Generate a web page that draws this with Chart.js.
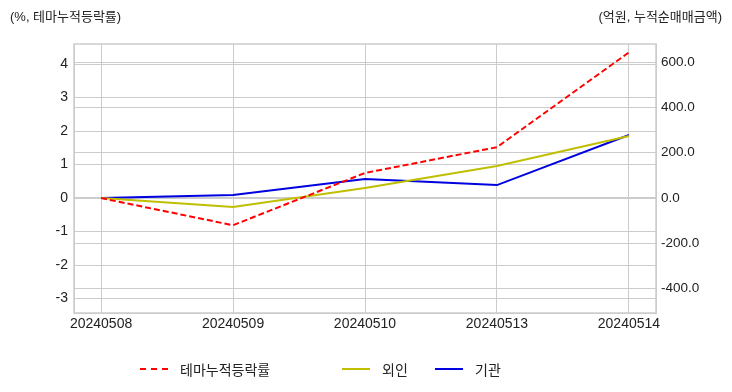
<!DOCTYPE html>
<html lang="ko">
<head>
  <meta charset="UTF-8">
  <title>테마누적등락률</title>
  <script src="https://cdn.jsdelivr.net/npm/chart.js@4"></script>
  <style>
    body { margin: 0; background: #fff; font-family: "Liberation Sans", "Noto Sans CJK KR", sans-serif; }
    #wrap { position: relative; width: 732px; height: 392px; }
    .axis-title { position: absolute; top: 6px; font-size: 13px; color: #222; white-space: nowrap; }
    .legend { position: absolute; top: 359px; font-size: 14px; color: #222; display: flex; align-items: center; white-space: nowrap; }
    .legend span.sw { display: inline-block; width: 28px; height: 0; margin-right: 12px; }
  </style>
</head>
<body>
  <div id="wrap">
    <canvas id="chart" width="732" height="392"></canvas>
    <div class="axis-title" style="left:10px">(%, 테마누적등락률)</div>
    <div class="axis-title" style="right:10px">(억원, 누적순매매금액)</div>
    <div class="legend" style="left:140px"><span class="sw" style="border-top:2px dashed #f00"></span>테마누적등락률</div>
    <div class="legend" style="left:342px"><span class="sw" style="border-top:2px solid #bfbf00"></span>외인</div>
    <div class="legend" style="left:435px"><span class="sw" style="border-top:2px solid #0000e0"></span>기관</div>
  </div>

  <script>
    const dates = ['20240508', '20240509', '20240510', '20240513', '20240514'];
    const themeRate = [0, -0.81, 0.75, 1.52, 4.35];      // %, left axis
    const foreign = [0, -40, 44, 141, 274];              // 억원, right axis
    const institution = [0, 13, 84, 57, 278];           // 억원, right axis
    const leftTicks = [-3, -2, -1, 0, 1, 2, 3, 4];
    const rightTicks = [-400, -200, 0, 200, 400, 600];

    const GRID = '#cccccc';
    const toXY = arr => arr.map((v, i) => ({ x: i, y: v }));

    const frame = {
      id: 'frame',
      afterDraw(chart) {
        const a = chart.chartArea, ctx = chart.ctx;
        ctx.save();
        ctx.strokeStyle = GRID;
        ctx.lineWidth = 1.5;
        ctx.strokeRect(a.left, a.top, a.right - a.left, a.bottom - a.top);
        ctx.restore();
      }
    };

    new Chart(document.getElementById('chart'), {
      type: 'line',
      data: {
        datasets: [
          { label: '테마누적등락률', data: toXY(themeRate), yAxisID: 'y', borderColor: '#ff0000', borderWidth: 2, borderDash: [6, 3] },
          { label: '외인', data: toXY(foreign), yAxisID: 'y1', borderColor: '#bfbf00', borderWidth: 2 },
          { label: '기관', data: toXY(institution), yAxisID: 'y1', borderColor: '#0000e0', borderWidth: 2 }
        ]
      },
      options: {
        responsive: false,
        animation: false,
        layout: { padding: { top: 44, left: 0, right: 0, bottom: 0 } },
        elements: { point: { radius: 0 }, line: { tension: 0 } },
        plugins: { legend: { display: false }, tooltip: { enabled: false } },
        font: { family: '"Liberation Sans", "Noto Sans CJK KR", sans-serif' },
        scales: {
          x: {
            type: 'linear', min: -0.205, max: 4.205,
            afterBuildTicks: s => { s.ticks = dates.map((d, i) => ({ value: i })); },
            afterFit: s => { s.height = 79; },
            ticks: { callback: v => dates[Math.round(v)], color: '#222', font: { size: 14 }, padding: 3, maxRotation: 0 },
            grid: { color: GRID, drawTicks: false },
            border: { color: GRID }
          },
          y: {
            position: 'left', min: -3.43, max: 4.6,
            afterBuildTicks: s => { s.ticks = leftTicks.map(v => ({ value: v })); },
            afterFit: s => { s.width = 74; },
            ticks: { color: '#222', font: { size: 14 }, padding: 6 },
            grid: { color: GRID, drawTicks: false },
            border: { color: GRID }
          },
          y1: {
            position: 'right', min: -508, max: 680,
            afterBuildTicks: s => { s.ticks = rightTicks.map(v => ({ value: v })); },
            afterFit: s => { s.width = 76; },
            ticks: { color: '#222', font: { size: 13.5 }, padding: 5, callback: v => v.toFixed(1) },
            grid: { color: GRID, drawTicks: false, drawOnChartArea: true },
            border: { color: GRID }
          }
        }
      },
      plugins: [frame]
    });
  </script>
</body>
</html>
